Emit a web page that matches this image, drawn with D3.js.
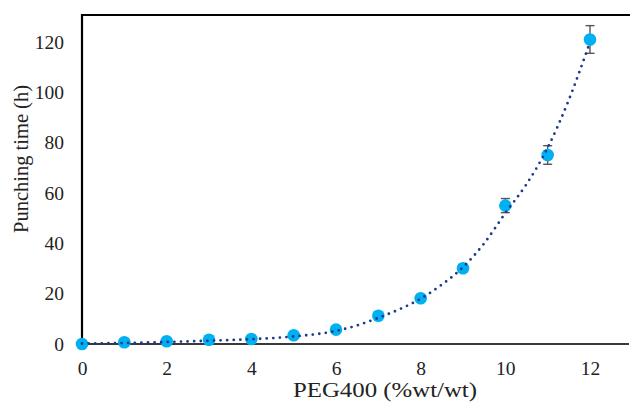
<!DOCTYPE html>
<html>
<head>
<meta charset="utf-8">
<script src="https://cdn.jsdelivr.net/npm/d3@7"></script>
<style>
  html, body { margin: 0; padding: 0; background: #fff; }
  svg { display: block; }
  text { font-family: "Liberation Serif", "Times New Roman", serif; fill: #222; }
</style>
</head>
<body>
<svg id="chart" width="630" height="405"></svg>
<script>
// PEG400 content (%wt/wt) and measured punching time (h)
const peg = [0, 1, 2, 3, 4, 5, 6, 7, 8, 9, 10, 11, 12];
const punchTime = [0, 0.7, 1.1, 1.7, 2.0, 3.5, 5.7, 11.2, 18.2, 30.1, 55.0, 75.1, 121.0];
const punchErr = [0, 0.1, 0.2, 0.2, 0.3, 0.4, 0.5, 0.8, 1.0, 1.5, 2.8, 3.7, 5.5];

// Fitted trend curve sampled along x
const trendX = [0, 1, 2, 3, 4, 5, 6, 6.5, 7, 7.5, 8, 8.5, 9, 9.5, 10, 10.5, 11, 11.5, 12];
const trendY = [0.2, 0.4, 0.8, 1.3, 1.9, 3.0, 5.2, 7.4, 10.4, 13.8, 18.0, 23.6, 30.5, 40.0, 52.0, 63.5, 78.0, 97.0, 120.0];

// Axis ticks
const xTicks = [0, 2, 4, 6, 8, 10, 12];
const yTicks = [0, 20, 40, 60, 80, 100, 120];

const svg = d3.select("#chart");

const x = d3.scaleLinear().domain([0, 12]).range([82, 590]);
const y = d3.scaleLinear().domain([0, 120]).range([344, 42]);

const plotTop = 15, plotRight = 630;

// Frame: top border and left axis in black, bottom axis dark grey
svg.append("line")
  .attr("x1", x(0)).attr("x2", plotRight)
  .attr("y1", plotTop).attr("y2", plotTop)
  .attr("stroke", "#000").attr("stroke-width", 2.2);

svg.append("line")
  .attr("x1", x(0)).attr("x2", x(0))
  .attr("y1", plotTop - 1.1).attr("y2", y(0))
  .attr("stroke", "#000").attr("stroke-width", 2.2);

svg.append("line")
  .attr("x1", x(0)).attr("x2", plotRight - 1)
  .attr("y1", y(0)).attr("y2", y(0))
  .attr("stroke", "#3a3a3a").attr("stroke-width", 2.2);

// Y tick labels
const yAxis = d3.axisLeft(y).tickValues(yTicks).tickSize(0).tickPadding(18).tickFormat(d3.format("d"));
const gy = svg.append("g").attr("transform", `translate(${x(0)},0)`).call(yAxis);
gy.select(".domain").remove();
gy.selectAll("text")
  .style("font-family", "'Liberation Serif', 'Times New Roman', serif")
  .style("font-size", "19.5px").attr("fill", "#222");

// X tick labels
const xAxis = d3.axisBottom(x).tickValues(xTicks).tickSize(0).tickPadding(17).tickFormat(d3.format("d"));
const gx = svg.append("g").attr("transform", `translate(0,${y(0)})`).call(xAxis);
gx.select(".domain").remove();
gx.selectAll("text")
  .style("font-family", "'Liberation Serif', 'Times New Roman', serif")
  .style("font-size", "19.5px").attr("fill", "#222");

// Axis titles
svg.append("text")
  .attr("x", 385).attr("y", 397)
  .attr("text-anchor", "middle")
  .style("font-size", "21.5px")
  .attr("textLength", 184).attr("lengthAdjust", "spacingAndGlyphs")
  .text("PEG400 (%wt/wt)");

svg.append("text")
  .attr("transform", "translate(28,159) rotate(-90)")
  .attr("text-anchor", "middle")
  .style("font-size", "20.5px")
  .text("Punching time (h)");

const pts = peg.map((p, i) => ({ p, v: punchTime[i], e: punchErr[i] }));

// Error bars
const eb = svg.append("g").attr("stroke", "#555").attr("stroke-width", 1.4).attr("fill", "none");
pts.forEach(d => {
  eb.append("line").attr("x1", x(d.p)).attr("x2", x(d.p))
    .attr("y1", y(d.v + d.e)).attr("y2", y(d.v - d.e));
  [d.v + d.e, d.v - d.e].forEach(v => {
    eb.append("line").attr("x1", x(d.p) - 4.5).attr("x2", x(d.p) + 4.5)
      .attr("y1", y(v)).attr("y2", y(v));
  });
});

// Markers
svg.append("g").selectAll("circle").data(pts).join("circle")
  .attr("cx", d => x(d.p)).attr("cy", d => y(d.v))
  .attr("r", 6.3).attr("fill", "#00B0F0");

// Dotted trend curve
const trend = trendX.map((t, i) => [t, trendY[i]]);
svg.append("path")
  .datum(trend)
  .attr("d", d3.line().x(d => x(d[0])).y(d => y(d[1])).curve(d3.curveMonotoneX))
  .attr("fill", "none")
  .attr("stroke", "#1b3a8c")
  .attr("stroke-width", 2.8)
  .attr("stroke-linecap", "round")
  .attr("stroke-dasharray", "0 6.6");
</script>
</body>
</html>
